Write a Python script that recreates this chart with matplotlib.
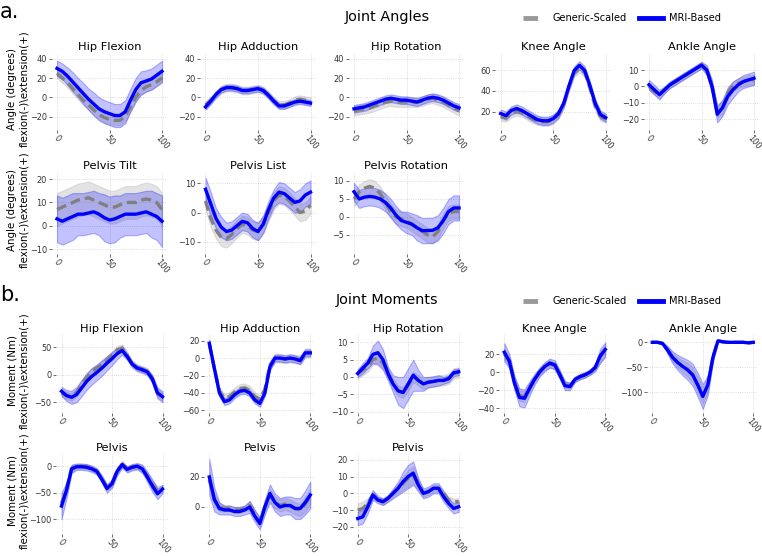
import matplotlib
matplotlib.use('Agg')
import matplotlib.pyplot as plt
from matplotlib.lines import Line2D
import numpy as np

# gait cycle (%)
x = [0, 5, 10, 15, 20, 25, 30, 35, 40, 45, 50, 55, 60, 65, 70, 75, 80, 85, 90, 95, 100]

# ---------------- joint angles ----------------
hip_flex_gs = [25, 20, 15, 9, 3, -3, -8, -13, -18, -21, -23, -24, -24, -20, -10, 0, 7, 11, 13, 16, 20]
hip_flex_gs_sd = [5] * 21
hip_flex_mri = [30, 27, 22, 16, 10, 4, -2, -7, -12, -15, -17, -19, -19, -15, -3, 8, 15, 17, 19, 23, 27]
hip_flex_mri_sd = [8, 8, 9, 10, 10, 11, 11, 12, 12, 12, 12, 12, 12, 12, 12, 12, 12, 11, 11, 11, 11]

hip_add_gs = [-8, -3, 3, 8, 10, 10, 9, 7, 7, 8, 9, 7, 2, -4, -8, -8, -6, -3, -2, -3, -4]
hip_add_gs_sd = [4] * 21
hip_add_mri = [-10, -4, 3, 8, 10, 10, 9, 7, 7, 8, 9, 7, 2, -4, -9, -9, -7, -5, -4, -5, -6]
hip_add_mri_sd = [3] * 21

hip_rot_gs = [-14, -13, -12, -11, -9, -7, -5, -4, -5, -5, -5, -5, -5, -4, -2, -1, -3, -5, -8, -11, -14]
hip_rot_gs_sd = [5] * 21
hip_rot_mri = [-12, -11, -10, -8, -6, -4, -2, -1, -2, -3, -3, -4, -5, -3, -1, 0, -1, -3, -6, -9, -11]
hip_rot_mri_sd = [4] * 21

knee_gs = [15, 14, 18, 20, 19, 16, 13, 11, 10, 10, 12, 17, 27, 44, 58, 62, 58, 43, 25, 15, 13]
knee_gs_sd = [4] * 21
knee_mri = [18, 16, 21, 23, 21, 18, 15, 12, 11, 11, 13, 18, 28, 45, 60, 65, 60, 45, 28, 17, 14]
knee_mri_sd = [4] * 21

ankle_gs = [0, -3, -5, -2, 1, 3, 5, 7, 9, 11, 13, 10, 0, -15, -13, -4, 0, 2, 3, 4, 4]
ankle_gs_sd = [2, 2, 2, 2, 2, 2, 2, 2, 2, 2, 2, 2, 3, 4, 4, 4, 3, 3, 3, 3, 3]
ankle_mri = [1, -2, -5, -2, 1, 3, 5, 7, 9, 11, 13, 10, 0, -17, -13, -6, -2, 1, 3, 4, 5]
ankle_mri_sd = [3, 3, 3, 2, 2, 2, 2, 2, 2, 2, 2, 3, 4, 5, 5, 5, 5, 4, 4, 4, 4]

pelvis_tilt_gs = [7, 8, 9, 10, 11, 11.5, 12, 11, 10, 9, 8, 8, 9, 10, 10, 10, 11, 11.5, 11, 10, 7]
pelvis_tilt_gs_sd = [7] * 21
pelvis_tilt_mri = [3, 2, 3, 4, 5, 5, 5.5, 6, 5, 3.5, 2.5, 3, 4, 5, 5, 5, 5.5, 6, 5, 4, 2]
pelvis_tilt_mri_sd = [10, 10, 10, 10, 9, 9, 9, 9, 9, 10, 10, 10, 9, 9, 9, 9, 9, 9, 10, 10, 11]

pelvis_list_gs = [4, -2, -6, -8.5, -9, -7.5, -5.5, -4, -4.5, -6, -6.5, -4, 0, 4, 6, 5.5, 4, 2, 0, 0.5, 2.5]
pelvis_list_gs_sd = [3] * 21
pelvis_list_mri = [8, 3, -2, -5, -6.5, -6, -4.5, -3, -3.5, -5.5, -6.5, -4, 1, 5, 7, 6.5, 5, 3.5, 4, 6, 7]
pelvis_list_mri_sd = [4, 4, 3.5, 3.5, 3, 3, 3, 3, 3, 3, 3, 3, 3, 3, 3.5, 3.5, 3.5, 3.5, 4, 4, 4]

pelvis_rot_gs = [5, 7, 8, 8.5, 8, 6.5, 4, 1.5, 0, -0.5, -1, -2, -3, -4, -5, -5.5, -4, -1, 1, 1.5, 1.5]
pelvis_rot_gs_sd = [2] * 21
pelvis_rot_mri = [7, 5, 5.5, 5.7, 5.5, 5, 4, 2.5, 0.5, -1, -1.5, -2, -3, -3.8, -3.8, -3.7, -3, -1, 1.5, 2.5, 2.5]
pelvis_rot_mri_sd = [2.5, 2.5, 2.5, 2.5, 2.5, 2.5, 2.5, 2.5, 2.5, 2.5, 3, 3, 3.5, 3.5, 3.5, 3.5, 3.5, 3.5, 3.5, 3.5, 3.5]

# ---------------- joint moments ----------------
hip_flex_m_gs = [-33, -38, -40, -32, -18, -5, 5, 12, 18, 26, 35, 45, 48, 35, 19, 12, 9, 5, -8, -33, -40]
hip_flex_m_gs_sd = [7] * 21
hip_flex_m_mri = [-30, -38, -41, -36, -24, -12, -3, 4, 12, 21, 29, 38, 44, 33, 19, 12, 9, 5, -8, -33, -40]
hip_flex_m_mri_sd = [8, 10, 12, 14, 15, 15, 15, 14, 14, 13, 12, 10, 8, 6, 5, 5, 5, 5, 7, 10, 10]

hip_add_m_gs = [16, -12, -38, -46, -44, -39, -35, -34, -37, -44, -47, -36, -8, 0, 0, -1, 0, -1, -2, 6, 6]
hip_add_m_gs_sd = [5] * 21
hip_add_m_mri = [17, -12, -40, -50, -48, -42, -38, -37, -40, -48, -52, -40, -10, 0, 0, -1, 0, -1, -3, 6, 6]
hip_add_m_mri_sd = [4] * 21

hip_rot_m_gs = [1, 2, 3, 5, 5.5, 4, 1, -2, -4, -4.5, -2.5, 0, -1, -2, -1.5, -1.3, -1, -1, -0.5, 1, 1.3]
hip_rot_m_gs_sd = [1.5] * 21
hip_rot_m_mri = [1, 2.5, 4, 6.5, 7, 5, 1, -2, -4, -4.5, -2, 0.5, -1, -2, -1.5, -1.3, -1, -1, -0.5, 1.2, 1.5]
hip_rot_m_mri_sd = [1, 1.5, 1.5, 2.5, 3.5, 3, 2, 2.5, 4, 4.5, 4.5, 4.5, 3, 2, 1.5, 1.5, 1.5, 1, 1, 1, 1]

knee_m_gs = [20, 12, -10, -26, -27, -17, -7, 1, 6, 9, 7, -3, -14, -15, -8, -5, -3, 0, 5, 17, 24]
knee_m_gs_sd = [6, 5, 5, 6, 6, 5, 4, 4, 4, 4, 4, 4, 4, 3, 3, 3, 3, 3, 3, 6, 6]
knee_m_mri = [22, 12, -12, -28, -29, -18, -8, 0, 6, 10, 8, -3, -15, -16, -8, -5, -3, 0, 5, 18, 25]
knee_m_mri_sd = [10, 8, 8, 10, 10, 8, 6, 5, 5, 5, 5, 5, 5, 4, 3, 3, 3, 3, 4, 8, 8]

ankle_m_gs = [0, 0, -2, -15, -30, -40, -48, -55, -65, -85, -106, -85, -30, 3, 1, 0, 0, 0, 0, -1, 0]
ankle_m_gs_sd = [1, 1, 2, 5, 8, 10, 12, 14, 15, 16, 17, 14, 8, 2, 1, 1, 1, 1, 1, 1, 1]
ankle_m_mri = [0, 0, -2, -15, -30, -40, -48, -55, -65, -85, -108, -85, -30, 3, 1, 0, 0, 0, 0, -1, 0]
ankle_m_mri_sd = [1, 1, 3, 8, 12, 15, 18, 20, 22, 24, 25, 20, 10, 2, 1, 1, 1, 1, 1, 1, 1]

pelvis_m1_gs = [-70, -42, -4, 0, 0, -1, -4, -9, -23, -40, -32, -9, 3, -5, -1, 0, -5, -20, -35, -45, -42]
pelvis_m1_gs_sd = [10, 8, 6, 5, 5, 5, 5, 5, 5, 6, 6, 6, 5, 5, 5, 5, 6, 7, 8, 8, 6]
pelvis_m1_mri = [-75, -45, -5, -1, -1, -2, -5, -10, -25, -42, -33, -10, 3, -6, -2, 0, -5, -20, -37, -52, -43]
pelvis_m1_mri_sd = [25, 15, 8, 6, 6, 6, 6, 6, 7, 8, 8, 8, 6, 6, 6, 6, 8, 10, 12, 10, 8]

pelvis_m2_gs = [18, 5, 0, -1, -1, -2, -2, -1, 1, -5, -10, 0, 8, 3, 1, 2, 1, -1, -2, 2, 7]
pelvis_m2_gs_sd = [5, 4, 3, 2, 2, 2, 2, 2, 3, 3, 3, 3, 4, 4, 4, 4, 4, 4, 4, 5, 5]
pelvis_m2_mri = [20, 5, -1, -2, -2, -3, -3, -2, 0, -6, -11, 0, 9, 3, 0, 1, 1, -1, -1, 3, 8]
pelvis_m2_mri_sd = [12, 8, 4, 3, 3, 3, 3, 3, 4, 4, 4, 5, 6, 6, 6, 6, 6, 7, 7, 8, 9]

pelvis_m3_gs = [-10, -9, -6, -1, -3, -5, -3, 0, 3, 6, 9, 11, 5, 0, 1, 3, 3, 0, -4, -5, -5]
pelvis_m3_gs_sd = [4, 4, 3, 2, 2, 2, 2, 2, 3, 4, 5, 5, 3, 2, 2, 2, 2, 2, 2, 2, 2]
pelvis_m3_mri = [-15, -14, -8, -1, -4, -5, -3, 0, 3, 7, 10, 12, 5, 0, 1, 3, 3, -2, -6, -9, -8]
pelvis_m3_mri_sd = [4, 4, 4, 3, 2, 2, 2, 3, 4, 6, 7, 7, 4, 3, 3, 3, 3, 3, 3, 3, 3]

angle_panels = [
    [('Hip Flexion', hip_flex_gs, hip_flex_gs_sd, hip_flex_mri, hip_flex_mri_sd),
     ('Hip Adduction', hip_add_gs, hip_add_gs_sd, hip_add_mri, hip_add_mri_sd),
     ('Hip Rotation', hip_rot_gs, hip_rot_gs_sd, hip_rot_mri, hip_rot_mri_sd),
     ('Knee Angle', knee_gs, knee_gs_sd, knee_mri, knee_mri_sd),
     ('Ankle Angle', ankle_gs, ankle_gs_sd, ankle_mri, ankle_mri_sd)],
    [('Pelvis Tilt', pelvis_tilt_gs, pelvis_tilt_gs_sd, pelvis_tilt_mri, pelvis_tilt_mri_sd),
     ('Pelvis List', pelvis_list_gs, pelvis_list_gs_sd, pelvis_list_mri, pelvis_list_mri_sd),
     ('Pelvis Rotation', pelvis_rot_gs, pelvis_rot_gs_sd, pelvis_rot_mri, pelvis_rot_mri_sd)],
]
moment_panels = [
    [('Hip Flexion', hip_flex_m_gs, hip_flex_m_gs_sd, hip_flex_m_mri, hip_flex_m_mri_sd),
     ('Hip Adduction', hip_add_m_gs, hip_add_m_gs_sd, hip_add_m_mri, hip_add_m_mri_sd),
     ('Hip Rotation', hip_rot_m_gs, hip_rot_m_gs_sd, hip_rot_m_mri, hip_rot_m_mri_sd),
     ('Knee Angle', knee_m_gs, knee_m_gs_sd, knee_m_mri, knee_m_mri_sd),
     ('Ankle Angle', ankle_m_gs, ankle_m_gs_sd, ankle_m_mri, ankle_m_mri_sd)],
    [('Pelvis', pelvis_m1_gs, pelvis_m1_gs_sd, pelvis_m1_mri, pelvis_m1_mri_sd),
     ('Pelvis', pelvis_m2_gs, pelvis_m2_gs_sd, pelvis_m2_mri, pelvis_m2_mri_sd),
     ('Pelvis', pelvis_m3_gs, pelvis_m3_gs_sd, pelvis_m3_mri, pelvis_m3_mri_sd)],
]

# axis ranges / ticks per panel (layout)
angle_ylims = [[(-34, 46), (-34, 46), (-34, 46), (2, 77), (-26.6, 20.4)],
               [(-12, 23), (-14.2, 13.9), (-10.3, 12.5)]]
angle_yticks = [[[-20, 0, 20, 40]] * 3 + [[20, 40, 60], [-20, -10, 0, 10]],
                [[-10, 0, 10, 20], [-10, 0, 10], [-5, 0, 5, 10]]]
moment_ylims = [[(-69.5, 72), (-63, 26.5), (-10.4, 12.1), (-45.2, 41), (-141, 14.6)],
                [(-127.7, 23), (-18, 35.3), (-24.2, 23.4)]]
moment_yticks = [[[-50, 0, 50], [-60, -40, -20, 0, 20], [-10, -5, 0, 5, 10], [-40, -20, 0, 20], [-100, -50, 0]],
                 [[-100, -50, 0], [0, 20], [-20, -10, 0, 10, 20]]]

W, H = 762, 556
fig = plt.figure(figsize=(W / 100, H / 100), dpi=100)

BLUE = '#0000ff'
GRAY = '#808080'


def px_axes(left, top, width, height):
    return fig.add_axes([left / W, 1 - (top + height) / H, width / W, height / H])


def draw_panel(ax, title, gs, gs_sd, mri, mri_sd, ylim, yticks):
    gs, gs_sd, mri, mri_sd = map(np.asarray, (gs, gs_sd, mri, mri_sd))
    ax.fill_between(x, gs - gs_sd, gs + gs_sd, color='#b0b0b0', alpha=0.35, lw=0.8)
    ax.fill_between(x, mri - mri_sd, mri + mri_sd, facecolor=(0, 0, 1, 0.24),
                    edgecolor=(0, 0, 1, 0.28), lw=0.8)
    ax.plot(x, gs, color=GRAY, lw=2.4, ls=(0, (3, 1.5)))
    ax.plot(x, mri, color=BLUE, lw=2.4)
    ax.set_xlim(-5, 105)
    ax.set_ylim(*ylim)
    ax.set_xticks([0, 50, 100])
    ax.set_yticks(yticks)
    for s in ax.spines.values():
        s.set_visible(False)
    ax.grid(True, ls=':', lw=0.6, color='#d0d0d0')
    ax.set_axisbelow(True)
    ax.tick_params(axis='both', labelsize=5.9, length=2, width=0.6, color='#555555',
                   labelcolor='#333333', pad=1.5)
    ax.tick_params(axis='x', pad=0.8)
    plt.setp(ax.get_xticklabels(), rotation=-50, ha='center', va='top')
    ax.set_title(title, fontsize=8.2, pad=2.5)


def draw_section(panels, ylims, yticks, x0s, scale, tops, heights, ylabel):
    for r, row in enumerate(panels):
        for c, p in enumerate(row):
            ax = px_axes(x0s[c] - 5 * scale, tops[r], 110 * scale, heights[r])
            draw_panel(ax, *p, ylims[r][c], yticks[r][c])
        # row label
        fig.text(18 / W, 1 - (tops[r] + heights[r] / 2 - 3) / H, ylabel, rotation=90,
                 fontsize=7.4, ha='center', va='center', multialignment='center')


draw_section(angle_panels, angle_ylims, angle_yticks,
             [57, 205.5, 354, 500.7, 649], 1.05, [53, 172], [77, 82],
             'Angle (degrees)\nflexion(-)\\extension(+)')
draw_section(moment_panels, moment_ylims, moment_yticks,
             [61.5, 209.3, 357.7, 504.3, 652.3], 1.01, [335, 454], [78, 80],
             'Moment (Nm)\nflexion(-)\\extension(+)')

# section headers and legends
handles = [Line2D([], [], color='#999999', lw=3.5, ls=(0, (3, 2.2))),
           Line2D([], [], color=BLUE, lw=3.5)]
labels = ['Generic-Scaled', 'MRI-Based']
for lab, title, ty in [('a.', 'Joint Angles', 17), ('b.', 'Joint Moments', 300)]:
    fig.text(0 / W, 1 - (ty - 5) / H, lab, fontsize=15, va='center', ha='left')
    fig.text(387 / W, 1 - ty / H, title, fontsize=10.4, va='center', ha='center')
    fig.legend(handles, labels, loc='center', bbox_to_anchor=(622 / W, 1 - (ty + 1) / H),
               ncol=2, frameon=False, fontsize=7.1, handlelength=2.4, columnspacing=1.2,
               handletextpad=0.6)

fig.savefig('out.png', dpi=100)
